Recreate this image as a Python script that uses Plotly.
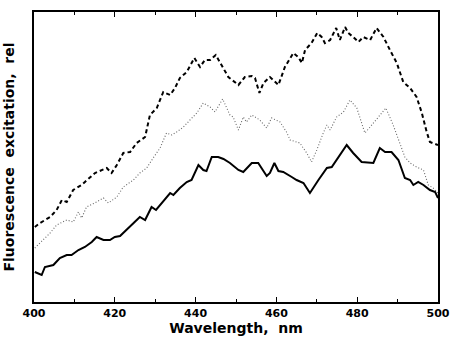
import plotly.graph_objects as go

# Dashed (top) curve
dash_x = [400.2, 401.5, 404.0, 405.6, 406.9, 408.1, 409.7, 411.8, 412.6, 415.1, 418.0, 419.2, 420.5, 422.1, 423.8,
          425.4, 427.5, 428.7, 430.4, 432.0, 433.7, 434.9, 436.1, 437.8, 439.7, 441.1, 442.3, 443.6, 445.0, 446.5,
          448.1, 450.6, 452.2, 453.9, 454.7, 455.8, 456.8, 458.4, 460.5, 462.1, 464.2, 465.4, 466.3, 467.1, 468.7,
          470.1, 471.2, 472.0, 473.3, 474.8, 475.7, 477.0, 477.8, 479.0, 480.3, 481.5, 483.2, 484.8, 486.5, 488.1,
          489.8, 491.4, 493.1, 494.7, 496.0, 497.2, 498.0, 500.0]
dash_y = [75, 79, 85, 92, 102, 100, 112, 117, 120, 129, 134, 129, 137, 149, 150,
          159, 165, 187, 194, 210, 207, 214, 224, 230, 244, 235, 242, 242, 247, 237,
          225, 217, 225, 226, 224, 209, 219, 225, 217, 235, 249, 245, 239, 252, 259,
          269, 265, 259, 262, 274, 262, 275, 269, 265, 260, 265, 262, 274, 265, 252,
          239, 220, 214, 205, 189, 170, 160, 157]

# Dotted (middle) curve
dot_x = [400.2, 402.3, 404.0, 405.6, 408.1, 409.7, 411.0, 411.8, 413.0, 415.5, 417.2, 418.4, 420.5, 422.1, 424.6,
         426.2, 427.9, 429.5, 431.2, 432.8, 434.1, 435.3, 437.0, 438.6, 440.3, 441.9, 443.6, 444.8, 446.7, 448.5,
         449.3, 450.6, 451.8, 452.6, 453.9, 455.9, 457.6, 458.8, 460.9, 462.5, 463.4, 465.8, 467.5, 468.7, 470.0,
         471.6, 472.5, 473.3, 474.9, 476.6, 478.2, 479.9, 481.9, 483.2, 485.2, 487.1, 488.9, 490.6, 491.8, 493.1,
         494.7, 496.4, 497.6, 498.8, 500.0]
dot_y = [54, 62, 69, 77, 82, 80, 90, 84, 95, 100, 104, 99, 105, 115, 122,
         129, 134, 144, 154, 169, 167, 170, 175, 182, 189, 199, 195, 190, 203, 187,
         185, 172, 185, 180, 187, 182, 174, 184, 180, 170, 162, 159, 149, 140, 152,
         169, 177, 172, 185, 190, 202, 194, 169, 175, 185, 194, 177, 159, 145, 139,
         135, 132, 117, 114, 109]

# Solid (bottom) curve
solid_x = [400.2, 401.9, 402.7, 404.8, 406.4, 408.1, 409.3, 411.0, 412.6, 414.3, 415.5, 417.2, 418.8, 420.0, 421.3,
           423.3, 424.6, 426.2, 427.5, 429.1, 430.2, 431.6, 433.7, 434.5, 436.1, 437.8, 439.0, 440.7, 441.9, 442.7,
           444.0, 445.6, 446.9, 448.5, 450.6, 451.8, 453.9, 455.5, 457.6, 458.4, 459.5, 460.5, 461.7, 463.8, 465.0,
           466.7, 468.3, 470.4, 472.5, 473.7, 475.7, 477.4, 479.0, 481.1, 484.0, 485.6, 486.9, 488.5, 490.2, 491.8,
           493.1, 493.9, 495.1, 496.4, 498.0, 499.3, 500.0]
solid_y = [30, 27, 35, 37, 44, 47, 47, 52, 55, 60, 65, 62, 62, 65, 66,
           74, 79, 85, 82, 95, 92, 99, 109, 107, 114, 120, 122, 137, 132, 131,
           145, 145, 143, 139, 132, 130, 139, 139, 126, 129, 139, 131, 130, 125, 122,
           119, 109, 122, 134, 135, 147, 157, 149, 140, 139, 154, 150, 150, 142, 124,
           122, 117, 120, 117, 112, 110, 104]

x_tickvals = [400, 420, 440, 460, 480, 500]

fig = go.Figure()
fig.add_trace(go.Scatter(x=dash_x, y=dash_y, mode="lines",
                         line=dict(color="black", width=2, dash="4px,3px"), showlegend=False))
fig.add_trace(go.Scatter(x=dot_x, y=dot_y, mode="lines",
                         line=dict(color="#666666", width=1.1, dash="1px,2px"), showlegend=False))
fig.add_trace(go.Scatter(x=solid_x, y=solid_y, mode="lines",
                         line=dict(color="black", width=2), showlegend=False))

fig.update_layout(
    width=450, height=339,
    margin=dict(l=34, r=12, t=12, b=37, autoexpand=False),
    paper_bgcolor="white", plot_bgcolor="white",
    font=dict(family="DejaVu Sans, sans-serif", color="black"),
    xaxis=dict(range=[400, 500], tickvals=x_tickvals, ticktext=[str(v) for v in x_tickvals],
               ticks="inside", ticklen=5, tickwidth=1, tickcolor="black",
               minor=dict(dtick=10, ticks="inside", ticklen=3, tickcolor="black"),
               showline=True, linecolor="black", linewidth=1.5, mirror="ticks",
               showgrid=False, zeroline=False, automargin=False,
               tickfont=dict(size=11, weight="bold"),
               title=dict(text="Wavelength,\u00a0\u00a0nm", font=dict(size=14, weight="bold"), standoff=2)),
    yaxis=dict(range=[0, 290], showticklabels=False, ticks="",
               showline=True, linecolor="black", linewidth=1.5, mirror=True,
               showgrid=False, zeroline=False, automargin=False,
               title=dict(text="Fluorescence\u00a0\u00a0excitation,\u00a0\u00a0rel",
                          font=dict(size=14, weight="bold"), standoff=14)),
)

fig.write_html("out.html", config={"displayModeBar": False},
               post_script="document.body.style.margin='0';")
